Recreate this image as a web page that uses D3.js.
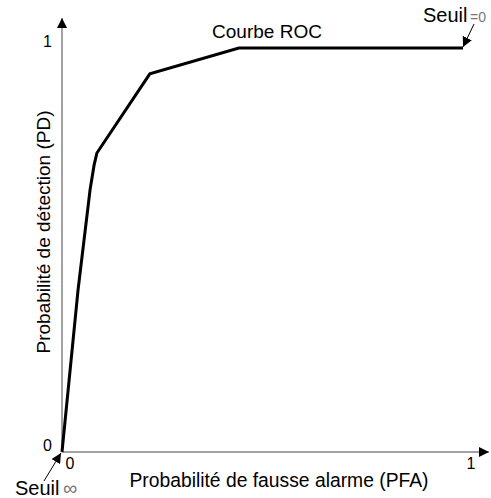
<!DOCTYPE html>
<html>
<head>
<meta charset="utf-8">
<script src="https://cdn.jsdelivr.net/npm/d3@7"></script>
<style>
body{margin:0;background:#fff;}
text{font-family:"Liberation Sans",Arial,sans-serif;fill:#000;}
</style>
</head>
<body>
<svg id="chart" width="491" height="498"></svg>
<script>
//roc curve points (PFA, PD)
const pfa = [0, 0.040, 0.070, 0.080, 0.087, 0.219, 0.441, 1];
const pd  = [0, 0.401, 0.649, 0.710, 0.740, 0.936, 1.0, 1];
//tick labels
const tickVals = [0, 1];
const tickLabels = ["0", "1"];

const svg = d3.select("#chart");

const x = d3.scaleLinear().domain([0, 1]).range([62, 463]);
const y = d3.scaleLinear().domain([0, 1]).range([452, 48]);

//arrowhead marker for axes and labels
svg.append("defs").append("marker")
    .attr("id","arr")
    .attr("viewBox","0 0 10 10")
    .attr("refX",10).attr("refY",5)
    .attr("markerWidth",10).attr("markerHeight",10)
    .attr("markerUnits","userSpaceOnUse")
    .attr("orient","auto")
  .append("path")
    .attr("d","M0,0L10,5L0,10z")
    .style("fill","#000");

//axes
svg.append("line")
    .attr("x1",x(0)).attr("y1",y(0))
    .attr("x2",x(1) + 26).attr("y2",y(0))
    .attr("marker-end","url(#arr)")
    .style("stroke","#444").style("stroke-width",1);
svg.append("line")
    .attr("x1",x(0)).attr("y1",y(0))
    .attr("x2",x(0)).attr("y2",y(1) - 30)
    .attr("marker-end","url(#arr)")
    .style("stroke","#444").style("stroke-width",1);

//tick labels
svg.selectAll(".xt").data(tickVals).enter().append("text")
    .attr("x", d => x(d) + 8)
    .attr("y", y(0) + 17)
    .attr("text-anchor","middle")
    .style("font-size","16px")
    .text((d,i) => tickLabels[i]);
svg.selectAll(".yt").data(tickVals).enter().append("text")
    .attr("x", x(0) - 10)
    .attr("y", d => y(d) - 1)
    .attr("text-anchor","end")
    .style("font-size","16px")
    .text((d,i) => tickLabels[i]);

//curve
const line = d3.line().x(d => x(d[0])).y(d => y(d[1]));
svg.append("path")
    .datum(pfa.map((v,i) => [v, pd[i]]))
    .attr("d", line)
    .style("fill","none")
    .style("stroke","#000")
    .style("stroke-width",3)
    .style("stroke-linejoin","miter");

//axis titles
svg.append("text")
    .attr("x", 279).attr("y", 487)
    .attr("text-anchor","middle")
    .style("font-size","19.3px")
    .text("Probabilité de fausse alarme (PFA)");
svg.append("text")
    .attr("transform","translate(50,232)rotate(-90)")
    .attr("text-anchor","middle")
    .style("font-size","19px")
    .text("Probabilité de détection (PD)");

svg.append("text")
    .attr("x", 267).attr("y", 38)
    .attr("text-anchor","middle")
    .style("font-size","19px")
    .text("Courbe ROC");

//threshold annotations
svg.append("text").attr("x", 423).attr("y", 22)
    .style("font-size","20px").text("Seuil");
svg.append("text").attr("x", 470).attr("y", 22)
    .style("font-size","14px").style("fill","#777").text("=0");
svg.append("line")
    .attr("x1",474).attr("y1",24)
    .attr("x2",x(1)).attr("y2",y(1) - 1)
    .attr("marker-end","url(#arr)")
    .style("stroke","#000").style("stroke-width",1);

svg.append("text").attr("x", 15).attr("y", 495)
    .style("font-size","20px").text("Seuil");
svg.append("text").attr("x", 63).attr("y", 495)
    .style("font-size","20px").style("fill","#777").text("∞");
svg.append("line")
    .attr("x1",44).attr("y1",481)
    .attr("x2",x(0) - 1).attr("y2",y(0) + 1)
    .attr("marker-end","url(#arr)")
    .style("stroke","#000").style("stroke-width",1);
</script>
</body>
</html>
